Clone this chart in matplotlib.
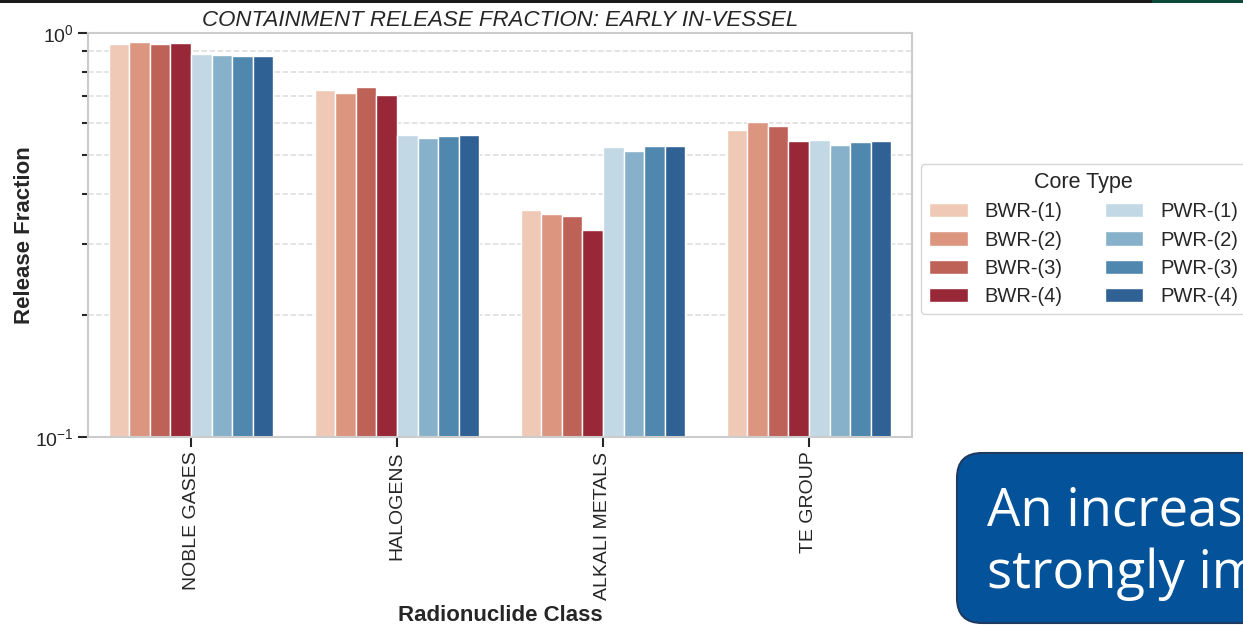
import numpy as np
import matplotlib
matplotlib.use("Agg")
import matplotlib.pyplot as plt
from matplotlib.patches import FancyBboxPatch, Rectangle
from matplotlib.ticker import LogLocator, NullFormatter

# data
categories = ["NOBLE GASES", "HALOGENS", "ALKALI METALS", "TE GROUP"]
core_types = ["BWR-(1)", "BWR-(2)", "BWR-(3)", "BWR-(4)",
              "PWR-(1)", "PWR-(2)", "PWR-(3)", "PWR-(4)"]

bwr1 = [0.939, 0.722, 0.365, 0.575]
bwr2 = [0.951, 0.710, 0.356, 0.601]
bwr3 = [0.939, 0.734, 0.353, 0.587]
bwr4 = [0.944, 0.702, 0.325, 0.540]
pwr1 = [0.885, 0.560, 0.523, 0.542]
pwr2 = [0.880, 0.550, 0.510, 0.528]
pwr3 = [0.875, 0.555, 0.525, 0.536]
pwr4 = [0.875, 0.560, 0.525, 0.540]

series = [bwr1, bwr2, bwr3, bwr4, pwr1, pwr2, pwr3, pwr4]
colors = ["#efc9b6", "#dc9680", "#be6157", "#982737",
          "#c2d8e4", "#87b1cb", "#4f87af", "#2f6194"]

plt.rcParams["font.family"] = ["Liberation Sans", "DejaVu Sans"]
plt.rcParams["mathtext.default"] = "regular"
text_col = "#262626"

fig = plt.figure(figsize=(12.43, 6.25), dpi=100)
ax = fig.add_axes([0.0708, 0.3008, 0.7337 - 0.0708, 0.9472 - 0.3008])
ax.set_yscale("log")

x = np.arange(len(categories))
w = 0.1
for j, (vals, name) in enumerate(zip(series, core_types)):
    ax.bar(x + (j - 3.5) * w, vals, width=w, color=colors[j],
           edgecolor="white", linewidth=1, label=name, zorder=2)

ax.set_ylim(0.1, 1.0)
ax.set_xlim(-0.5, len(categories) - 0.5)
ax.yaxis.set_minor_locator(LogLocator(base=10, subs=np.arange(2, 10)))
ax.yaxis.set_minor_formatter(NullFormatter())
ax.yaxis.grid(True, which="minor", ls="--", color="#dddddd", lw=1.1, zorder=0)
ax.set_axisbelow(True)

ax.set_xticks(x)
ax.set_xticklabels(categories, rotation=90, fontsize=14, color=text_col)
ax.tick_params(axis="y", which="major", labelsize=14, labelcolor=text_col)
ax.tick_params(which="major", length=7, width=1.5, color=text_col)
ax.tick_params(which="minor", length=4, width=1.5, color=text_col)
for s in ax.spines.values():
    s.set_color("#cccccc")
    s.set_linewidth(1.5)

ax.set_xlabel("Radionuclide Class", fontsize=16, fontweight="bold", color=text_col)
ax.set_ylabel("Release Fraction", fontsize=16, fontweight="bold", color=text_col, labelpad=0)
ax.set_title("CONTAINMENT RELEASE FRACTION: EARLY IN-VESSEL", fontsize=16,
             style="italic", color=text_col, pad=5)

leg = ax.legend(loc="center left", bbox_to_anchor=(0.999, 0.49), ncol=2,
                title="Core Type", fontsize=14.5, title_fontsize=15.5,
                frameon=True, fancybox=True, edgecolor="#cccccc",
                handlelength=1.9, handletextpad=0.85, columnspacing=2.1,
                labelspacing=0.45)
for t in leg.get_texts():
    t.set_color(text_col)
leg.get_title().set_color(text_col)

# slide decorations around the chart
fig.patches.append(Rectangle((0, 622), 1152, 3, transform=None,
                             facecolor="#1a1a1a", edgecolor="none"))
fig.patches.append(Rectangle((1152, 622), 91, 3, transform=None,
                             facecolor="#0d4a3c", edgecolor="none"))
fig.patches.append(FancyBboxPatch((957, 2), 400, 170, transform=None,
                                  boxstyle="round,pad=0,rounding_size=25",
                                  facecolor="#04539a", edgecolor="#1f3a60", lw=1.5))
fig.text(987, 100, "An increas", transform=None, fontsize=38, color="white",
         family=["Open Sans", "DejaVu Sans"], va="baseline")
fig.text(987, 37, "strongly im", transform=None, fontsize=38, color="white",
         family=["Open Sans", "DejaVu Sans"], va="baseline")

fig.savefig("out.png", dpi=100)
